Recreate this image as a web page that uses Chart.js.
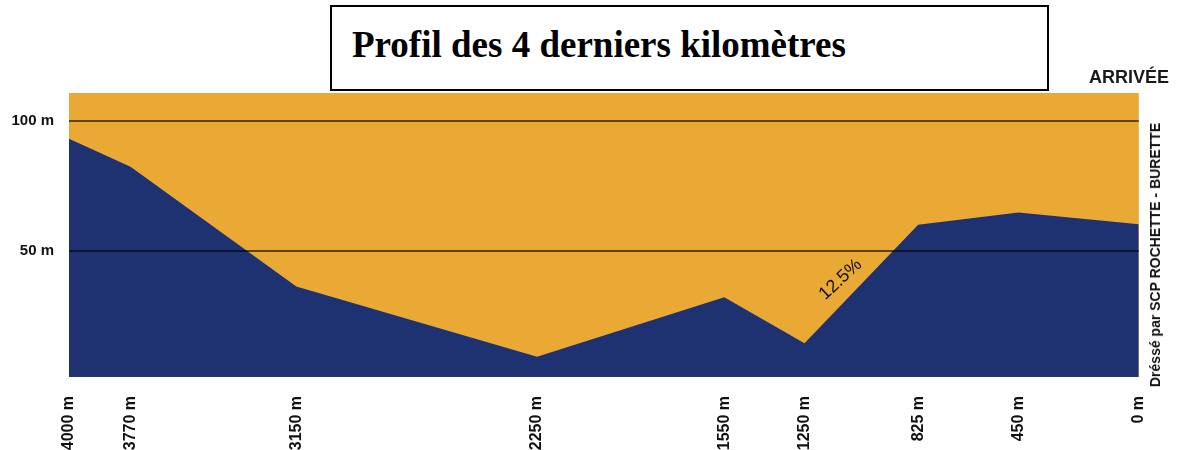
<!DOCTYPE html>
<html>
<head>
<meta charset="utf-8">
<script src="https://cdn.jsdelivr.net/npm/chart.js@4/dist/chart.umd.min.js"></script>
<style>
  html, body { margin: 0; padding: 0; background: #fff; }
  #wrap { position: relative; width: 1177px; height: 450px; overflow: hidden; }
  #c { position: absolute; left: 0; top: 0; }
  .title-box { position: absolute; left: 330px; top: 5px; width: 719px; height: 86px; box-sizing: border-box; border: 2px solid #000; background: #fff; }
  .title { position: absolute; left: 352px; top: 26px; font-family: "Liberation Serif", "Times New Roman", serif; font-weight: bold; font-size: 37px; line-height: 37px; color: #000; white-space: nowrap; }
  .arrivee { position: absolute; right: 8px; top: 68px; font-family: "Liberation Sans", Arial, sans-serif; font-weight: bold; font-size: 18px; line-height: 18px; color: #1a1a1a; white-space: nowrap; }
  .credit { position: absolute; left: 1155px; top: 255px; transform: translate(-50%, -50%) rotate(-90deg); font-family: "Liberation Sans", Arial, sans-serif; font-weight: bold; font-size: 14px; line-height: 14px; color: #111; white-space: nowrap; }
</style>
</head>
<body>
<div id="wrap">
  <canvas id="c" width="1177" height="450"></canvas>
  <div class="title-box"></div>
  <div class="title">Profil des 4 derniers kilomètres</div>
  <div class="arrivee">ARRIVÉE</div>
  <div class="credit">Dréssé par SCP ROCHETTE - BURETTE</div>
</div>
<script>
// Distance to finish (m) at each profile vertex
const distances = [4000, 3770, 3150, 2250, 1550, 1250, 825, 450, 0];
// Altitude (m) at each vertex
const altitudes = [93.0, 82.3, 36.3, 9.4, 32.2, 14.6, 60.0, 64.7, 60.2];
// Labelled altitude ticks
const altitudeTicks = [50, 100];
// Gradient annotation
const gradeLabel = '12.5%';
const gradeAt = { x: 1115, y: 39 };

const ORANGE = '#EAA935';
const NAVY = '#1E3272';

const bgPlugin = {
  id: 'bg',
  beforeDraw(chart) {
    const { ctx, chartArea: a } = chart;
    ctx.save();
    ctx.fillStyle = ORANGE;
    ctx.fillRect(a.left, a.top, a.right - a.left, a.bottom - a.top);
    ctx.restore();
  }
};

const gradePlugin = {
  id: 'grade',
  afterDraw(chart) {
    const { ctx, scales } = chart;
    const px = scales.x.getPixelForValue(gradeAt.x);
    const py = scales.y.getPixelForValue(gradeAt.y);
    ctx.save();
    ctx.translate(px, py);
    ctx.rotate(-43 * Math.PI / 180);
    ctx.font = '18px "Liberation Sans", Arial, sans-serif';
    ctx.fillStyle = '#111';
    ctx.textAlign = 'center';
    ctx.textBaseline = 'middle';
    ctx.fillText(gradeLabel, 0, 0);
    ctx.restore();
  }
};

new Chart(document.getElementById('c'), {
  type: 'line',
  data: {
    datasets: [{
      data: distances.map((d, i) => ({ x: d, y: altitudes[i] })),
      backgroundColor: NAVY,
      borderWidth: 0,
      borderColor: NAVY,
      pointRadius: 0,
      tension: 0,
      fill: 'start'
    }]
  },
  options: {
    responsive: false,
    devicePixelRatio: 1,
    animation: false,
    layout: { padding: { top: 93, right: 35, left: 0, bottom: 0 } },
    plugins: { legend: { display: false }, tooltip: { enabled: false } },
    scales: {
      x: {
        type: 'linear',
        reverse: true,
        min: 0,
        max: 4000,
        afterBuildTicks(scale) { scale.ticks = distances.map(v => ({ value: v })); },
        afterFit(scale) { scale.height = 73; },
        grid: { display: false, drawTicks: false },
        border: { display: false },
        ticks: {
          autoSkip: false,
          minRotation: 90,
          maxRotation: 90,
          padding: 19,
          color: '#111',
          font: { family: '"Liberation Sans", Arial, sans-serif', weight: 'bold', size: 16 },
          callback: v => v + ' m'
        }
      },
      y: {
        min: 1.6,
        max: 110.6,
        afterBuildTicks(scale) { scale.ticks = altitudeTicks.map(v => ({ value: v })); },
        afterFit(scale) { scale.width = 69; },
        grid: { color: 'rgba(0,0,0,0.6)', lineWidth: 2, drawTicks: false, z: 1 },
        border: { display: false },
        ticks: {
          padding: 15,
          color: '#111',
          font: { family: '"Liberation Sans", Arial, sans-serif', weight: 'bold', size: 15 },
          callback: v => v + ' m'
        }
      }
    }
  },
  plugins: [bgPlugin, gradePlugin]
});
</script>
</body>
</html>
